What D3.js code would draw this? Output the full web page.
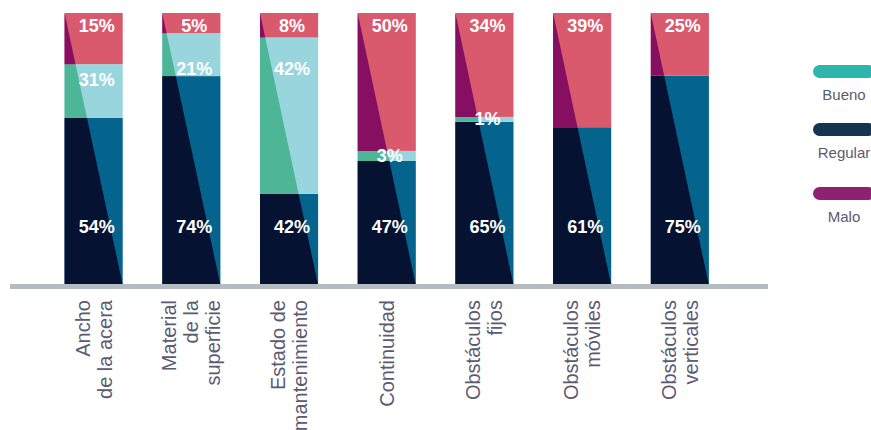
<!DOCTYPE html>
<html>
<head>
<meta charset="utf-8">
<script src="https://cdn.jsdelivr.net/npm/d3@7"></script>
<style>
  body { margin: 0; background: #fff; }
  svg { display: block; font-family: "Liberation Sans", Arial, sans-serif; }
</style>
</head>
<body>
<div id="grafica"></div>
<script>
// categorias (con saltos de linea como en el original)
var categorias = ["Ancho\nde la acera", "Material\nde la\nsuperficie", "Estado de\nmantenimiento",
                  "Continuidad", "Obstáculos\nfijos", "Obstáculos\nmóviles", "Obstáculos\nverticales"];

// alto dibujado de cada tramo (% de la barra)
var regular = [61.4, 76.8, 33.5, 45.6, 60.0, 58.0, 77.0];
var bueno   = [19.8, 15.8, 57.5, 3.7, 1.8, 0, 0];
var malo    = [18.8, 7.4, 9.0, 50.7, 38.2, 42.0, 23.0];

// etiquetas impresas
var etiquetaRegular = ["54%", "74%", "42%", "47%", "65%", "61%", "75%"];
var etiquetaBueno   = ["31%", "21%", "42%", "3%", "1%", "", ""];
var etiquetaMalo    = ["15%", "5%", "8%", "50%", "34%", "39%", "25%"];

var leyenda = ["Bueno", "Regular", "Malo"];

var width = 871, height = 430;
var colores = {
    regular: { izq: "#061232", der: "#05648d", ley: "#14344f" },
    bueno:   { izq: "#4db697", der: "#99d5dd", ley: "#2db6ae" },
    malo:    { izq: "#860f62", der: "#d95a6d", ley: "#8f2270" }
};

var svg = d3.select("#grafica")
            .append("svg")
            .attr("width", width)
            .attr("height", height);

var x = d3.scaleBand()
          .domain(categorias)
          .range([44.8, 728.7])
          .paddingInner(0.405)
          .paddingOuter(0.2025);

var y = d3.scaleLinear()
          .domain([0, 100])
          .range([285, 13]);

// construir tramos apilados
var tramos = [];
categorias.forEach(function(c, i) {
    var base = 0;
    [["regular", regular[i], etiquetaRegular[i]],
     ["bueno", bueno[i], etiquetaBueno[i]],
     ["malo", malo[i], etiquetaMalo[i]]].forEach(function(s) {
        tramos.push({ cat: c, serie: s[0], y0: base, y1: base + s[1], label: s[2] });
        base += s[1];
    });
});

var yTop = y(100), yBot = y(0), bw = x.bandwidth();

// x de la diagonal (esquina sup. izq. -> esquina inf. der.)
function diag(x0, py) {
    return x0 + bw * (py - yTop) / (yBot - yTop);
}

var g = svg.append("g");
tramos.filter(function(d) { return d.y1 > d.y0; }).forEach(function(d) {
    var x0 = x(d.cat), ya = y(d.y1), yb = y(d.y0);
    g.append("rect")
        .attr("x", x0).attr("y", ya)
        .attr("width", bw).attr("height", yb - ya)
        .attr("fill", colores[d.serie].der);
    g.append("path")
        .attr("d", "M" + x0 + "," + ya + "L" + diag(x0, ya) + "," + ya +
                   "L" + diag(x0, yb) + "," + yb + "L" + x0 + "," + yb + "Z")
        .attr("fill", colores[d.serie].izq);
});

// eje
svg.append("line")
    .attr("x1", 10).attr("x2", 768)
    .attr("y1", 286.5).attr("y2", 286.5)
    .attr("stroke", "#b4bcc2")
    .attr("stroke-width", 5);

// etiquetas de porcentaje
tramos.filter(function(d) { return d.label !== ""; }).forEach(function(d) {
    var ya = y(d.y1), yb = y(d.y0), py;
    if (d.serie === "regular") py = yBot - 52;
    else if (d.serie === "malo") py = yTop + 19;
    else if (yb - ya < 20) py = (ya + yb) / 2 + 6;
    else py = Math.max(75, ya + 22);
    svg.append("text")
        .attr("x", x(d.cat) + bw / 2 + 3)
        .attr("y", py)
        .attr("text-anchor", "middle")
        .attr("fill", "#fff")
        .style("font-size", "18px")
        .style("font-weight", "bold")
        .text(d.label);
});

// etiquetas de categoria (rotadas)
categorias.forEach(function(c) {
    var lineas = c.split("\n");
    var cx = x(c) + bw / 2;
    var t = svg.append("text")
        .attr("transform", "translate(" + cx + ",300) rotate(-90)")
        .attr("text-anchor", "end")
        .attr("fill", "#5b5b72")
        .style("font-size", "20px");
    lineas.forEach(function(l, i) {
        t.append("tspan")
            .attr("x", 0)
            .attr("y", (i - (lineas.length - 1) / 2) * 22 + 7)
            .text(l);
    });
});

// leyenda
var leyY = [65, 123, 187];
leyenda.forEach(function(n, i) {
    var key = n.toLowerCase();
    svg.append("rect")
        .attr("x", 813).attr("y", leyY[i])
        .attr("width", 62).attr("height", 13)
        .attr("rx", 6.5)
        .attr("fill", colores[key].ley);
    svg.append("text")
        .attr("x", 844).attr("y", leyY[i] + 35)
        .attr("text-anchor", "middle")
        .attr("fill", "#5b5b6f")
        .style("font-size", "15px")
        .text(n);
});
</script>
</body>
</html>
